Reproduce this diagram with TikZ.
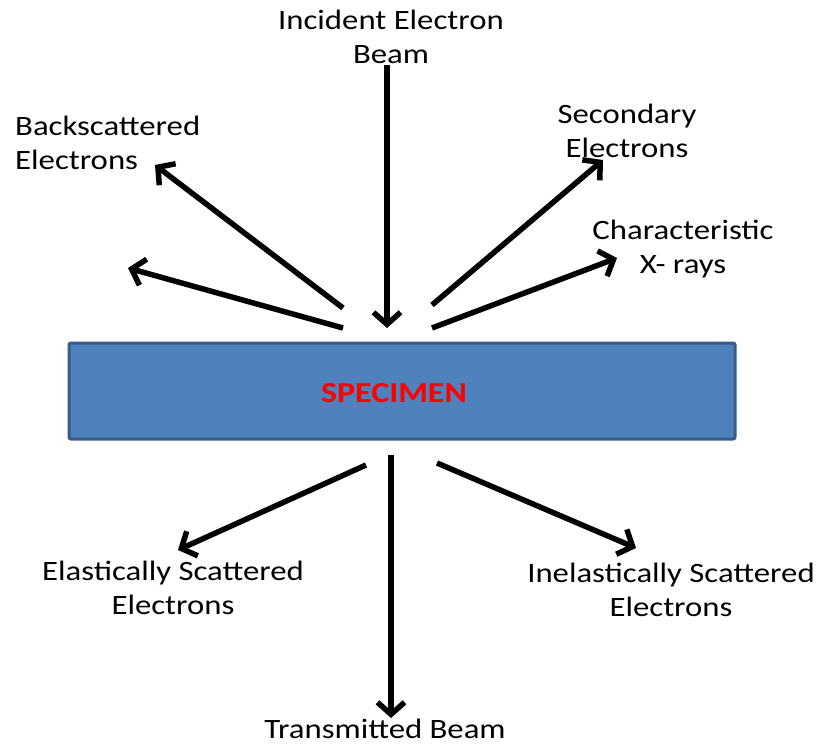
\documentclass[tikz,border=0pt]{standalone}
\usepackage{fontspec}
\setmainfont{Carlito}[FakeStretch=1.17]
\usetikzlibrary{arrows.meta}
\definecolor{specblue}{HTML}{4F81BD}
\definecolor{specedge}{HTML}{385D8A}
\definecolor{specred}{HTML}{FF0000}
\begin{document}
\begin{tikzpicture}[x=1pt,y=-1pt,
	every node/.style={align=center,inner sep=0pt,font=\fontsize{28}{34}\selectfont},
	ray/.style={line width=5.5pt,-{Straight Barb[length=12pt,width=27pt,line width=5.5pt]}}]
	\useasboundingbox (0,0) rectangle (822,744);
	% specimen
	\node[draw=specedge,line width=3pt,fill=specblue,rounded corners=2pt,
		minimum width=666pt,minimum height=96pt] (spec) at (402,391) {};
	\node[text=specred,font=\fontsize{29}{34}\selectfont\bfseries] (name) at (394,393) {SPECIMEN};

	% labels
	\node (inc)  at (391,37)  {Incident Electron\\Beam};
	\node[align=left,anchor=west] (back) at (15,143) {Backscattered\\Electrons};
	\node (sec)  at (627,131) {Secondary\\Electrons};
	\node (xray) at (683,249) {Characteristic\\X- rays};
	\node (el)   at (173,588) {Elastically Scattered\\Electrons};
	\node (inel) at (671,590) {Inelastically Scattered\\Electrons};
	\node (trans) at (385,729) {Transmitted Beam};

	% ray ends
	\coordinate (i0) at (387,65);   \coordinate (i1) at (387,328);
	\coordinate (b0) at (343,308);  \coordinate (b1) at (155,165);
	\coordinate (a0) at (343,328);  \coordinate (a1) at (128,268);
	\coordinate (s0) at (432,305);  \coordinate (s1) at (603,160);
	\coordinate (x0) at (432,328);  \coordinate (x1) at (617,258);
	\coordinate (e0) at (366,465);  \coordinate (e1) at (178,550);
	\coordinate (t0) at (391,455);  \coordinate (t1) at (391,718);
	\coordinate (n0) at (437,463);  \coordinate (n1) at (636,548);

	\foreach \from/\to in {i0/i1,b0/b1,a0/a1,s0/s1,x0/x1,e0/e1,t0/t1,n0/n1}
		\draw[ray] (\from) -- (\to);
\end{tikzpicture}
\end{document}
